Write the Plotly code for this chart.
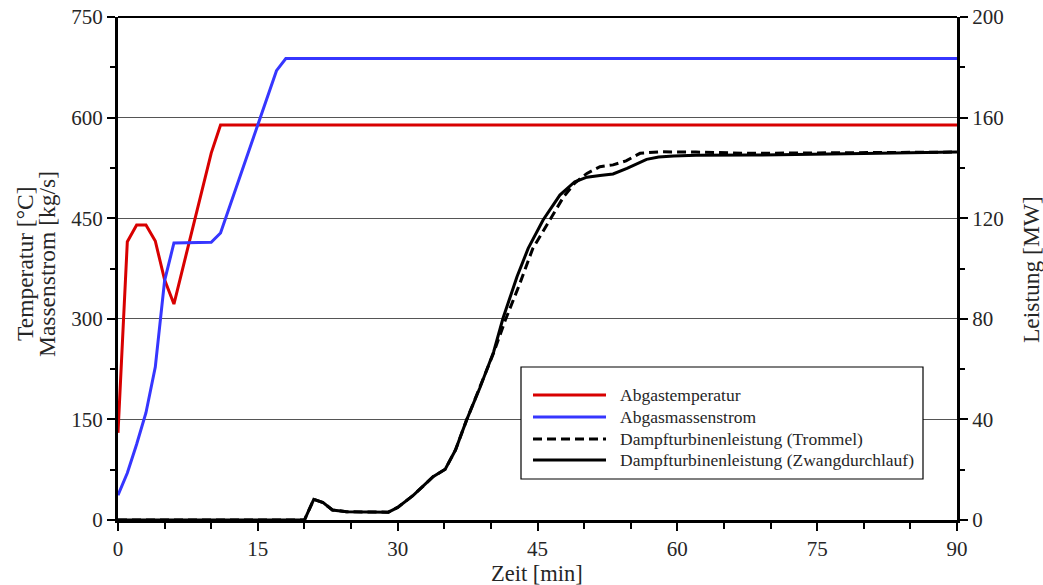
import plotly.graph_objects as go

# ---------------- data ----------------
names = ["Abgastemperatur", "Abgasmassenstrom",
         "Dampfturbinenleistung (Trommel)", "Dampfturbinenleistung (Zwangdurchlauf)"]

t_temp = [0, 1, 2, 3, 4, 5, 6, 7, 8, 9, 10, 11, 90]
v_temp = [130, 415, 440, 440, 416, 358, 322, 378, 434, 491, 547, 589, 589]

t_mass = [0, 1, 2, 3, 4, 5, 6, 10, 11, 17, 18, 90]
v_mass = [37, 70, 113, 160, 228, 357, 413, 414, 428, 670, 688, 688]

t_zwang = [0, 20, 21, 22, 23, 24.5, 29, 30, 31.7, 33.8, 35.1, 36.2, 37.4, 38.8, 40.3, 41.3,
           42.8, 44.0, 45.6, 47.4, 49.0, 50.3, 51.7, 53.1, 54.6, 55.7, 56.7, 58, 59.6, 62, 68, 80, 90]
v_zwang = [0, 0, 8.2, 6.9, 4.0, 3.3, 3.1, 5.0, 9.9, 17.2, 20.2, 27.8, 39.8, 52.4, 66.9, 80.2,
           96.7, 108, 119.3, 129.2, 134.5, 136.3, 137.0, 137.6, 139.8, 141.8, 143.4, 144.3, 144.7,
           145.0, 145.1, 145.7, 146.3]

t_trommel = [0, 20, 21, 22, 23, 24.5, 29, 30, 31.7, 33.8, 35.1, 36.2, 37.4, 38.8, 40.3, 41.5,
             43.0, 44.5, 46.3, 47.8, 49.0, 50.3, 51.7, 53.1, 54.5, 56.0, 58.1, 62, 67.8, 80, 90]
v_trommel = [0, 0, 8.2, 6.9, 4.0, 3.3, 3.1, 5.0, 9.9, 17.2, 20.2, 27.8, 39.8, 52.4, 66.5, 79.0,
             93.0, 108, 119.3, 128.5, 134.0, 137.8, 140.5, 141.2, 142.8, 145.8, 146.4, 146.3,
             145.8, 146.0, 146.3]

x_ticks = [0, 15, 30, 45, 60, 75, 90]
y_ticks = [0, 150, 300, 450, 600, 750]
y2_ticks = [0, 40, 80, 120, 160, 200]

x_title = "Zeit [min]"
y_title_lines = ["Temperatur [°C]", "Massenstrom [kg/s]"]
y2_title = "Leistung [MW]"

# ---------------- styles ----------------
FONT = "Liberation Serif"
TXT = "#262626"
RED = "#d80000"
BLUE = "#3636ff"
BLACK = "#000000"

fig = go.Figure()
fig.add_trace(go.Scatter(x=t_temp, y=v_temp, mode="lines", name=names[0],
                         line=dict(color=RED, width=3), yaxis="y"))
fig.add_trace(go.Scatter(x=t_mass, y=v_mass, mode="lines", name=names[1],
                         line=dict(color=BLUE, width=3), yaxis="y"))
fig.add_trace(go.Scatter(x=t_trommel, y=v_trommel, mode="lines", name=names[2],
                         line=dict(color=BLACK, width=3, dash="9px,5px"), yaxis="y2"))
fig.add_trace(go.Scatter(x=t_zwang, y=v_zwang, mode="lines", name=names[3],
                         line=dict(color=BLACK, width=3), yaxis="y2"))

W, H = 1043, 585
PL, PR, PT, PB = 118, 957, 17, 520  # plot area in screen pixels
L, T, R, B = PL, PT, W - PR, H - PB
pw, ph = PR - PL, PB - PT

def px(xs):
    return (xs - PL) / pw

def py(ys):
    return (PB - ys) / ph

shapes = []
annotations = []
# top border
shapes.append(dict(type="line", xref="paper", yref="paper", x0=0, x1=1, y0=1, y1=1,
                   line=dict(color=BLACK, width=2)))
# manual legend
shapes.append(dict(type="rect", xref="paper", yref="paper", x0=px(521), x1=px(923),
                   y0=py(479), y1=py(367), line=dict(color=BLACK, width=1.2),
                   fillcolor="white", layer="above"))
leg_rows = [395, 417, 439, 460]
leg_styles = [dict(color=RED, width=3), dict(color=BLUE, width=3),
              dict(color=BLACK, width=3, dash="9px,5px"), dict(color=BLACK, width=3)]
for name, yy, st in zip(names, leg_rows, leg_styles):
    shapes.append(dict(type="line", xref="paper", yref="paper", x0=px(533), x1=px(606),
                       y0=py(yy), y1=py(yy), line=st, layer="above"))
    annotations.append(dict(xref="paper", yref="paper", x=px(618), y=py(yy), text=name,
                            showarrow=False, xanchor="left", yanchor="middle",
                            font=dict(family=FONT, size=17.5, color=TXT)))

# axis titles
title_font = dict(family=FONT, size=23.5, color=TXT)
annotations.append(dict(xref="paper", yref="paper", x=px(537), y=py(573), text=x_title,
                        showarrow=False, xanchor="center", yanchor="middle",
                        font=dict(family=FONT, size=22.5, color=TXT)))
for xx, txt in zip([25, 47], y_title_lines):
    annotations.append(dict(xref="paper", yref="paper", x=px(xx), y=py(264), text=txt,
                            textangle=-90, showarrow=False, xanchor="center", yanchor="middle",
                            font=title_font))
annotations.append(dict(xref="paper", yref="paper", x=px(1031), y=py(270), text=y2_title,
                        textangle=-90, showarrow=False, xanchor="center", yanchor="middle",
                        font=title_font))

fig.update_layout(
    width=W, height=H,
    margin=dict(l=L, r=R, t=T, b=B, autoexpand=False),
    paper_bgcolor="white", plot_bgcolor="white",
    showlegend=False,
    font=dict(family=FONT, size=21, color=TXT),
    shapes=shapes, annotations=annotations,
    xaxis=dict(range=[0, 90], tickvals=x_ticks, ticks="outside", ticklen=8, tickwidth=1.5,
               tickcolor=BLACK, showline=True, linewidth=3, linecolor=BLACK,
               showgrid=False, zeroline=False, automargin=False, ticklabeloverflow="allow",
               minor=dict(dtick=5, ticks="outside", ticklen=6, tickwidth=1.5, tickcolor=BLACK)),
    yaxis=dict(range=[0, 750], tickvals=y_ticks, ticks="outside", ticklen=8, tickwidth=1.5,
               tickcolor=BLACK, showline=True, linewidth=3, linecolor=BLACK,
               showgrid=True, gridcolor="#555555", gridwidth=1, zeroline=False, automargin=False,
               ticklabeloverflow="allow",
               minor=dict(dtick=75, ticks="outside", ticklen=5, tickwidth=1.5, tickcolor=BLACK,
                          showgrid=False)),
    yaxis2=dict(range=[0, 200], tickvals=y2_ticks, overlaying="y", side="right",
                ticks="outside", ticklen=8, tickwidth=1.5, tickcolor=BLACK,
                showline=True, linewidth=3, linecolor=BLACK, showgrid=False, zeroline=False,
                automargin=False, ticklabeloverflow="allow",
                minor=dict(dtick=20, ticks="outside", ticklen=5, tickwidth=1.5, tickcolor=BLACK,
                           showgrid=False)),
)

# the page body has a default 8px margin; remove it so the figure sits at the window origin
fig.write_html("out.html", config={"displayModeBar": False},
               post_script="document.body.style.margin='0px';document.body.style.overflow='hidden';")
